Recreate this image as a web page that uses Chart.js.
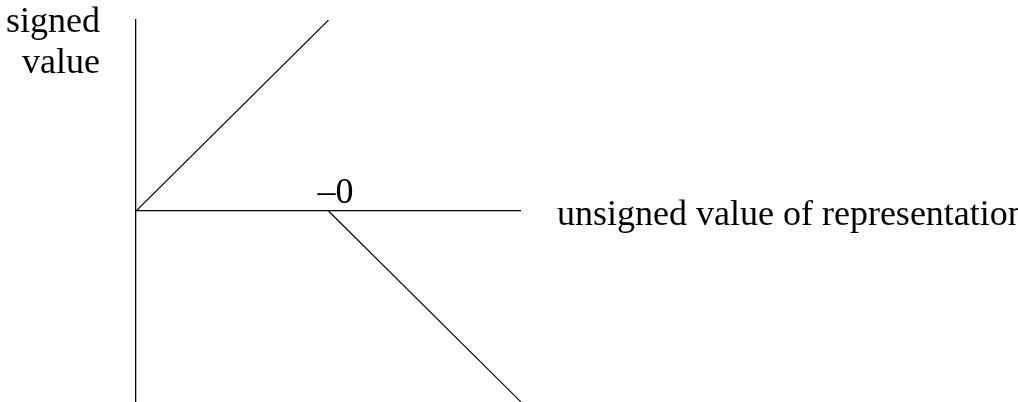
<!DOCTYPE html>
<html>
<head>
<meta charset="utf-8">
<script src="https://cdn.jsdelivr.net/npm/chart.js@4.4.1/dist/chart.umd.min.js"></script>
<style>
  html, body { margin: 0; padding: 0; background: #fff; }
  #wrap { width: 1018px; height: 402px; position: relative; }
</style>
</head>
<body>
<div id="wrap"><canvas id="myChart" width="1018" height="402"></canvas></div>
<script>
// the two branches of the mapping
var positiveX = [0, 1];
var positiveY = [0, 1];
var negativeX = [1, 2];
var negativeY = [0, -1];

var xRange = [0, 2];
var yRange = [-1, 1];

var yLabel = ['signed', 'value'];
var xLabel = 'unsigned value of representation';
var zeroLabel = '\u20130';

function toPoints(xs, ys){
  var pts = [];
  for (let i = 0; i < xs.length; i++) {
    pts.push({x: xs[i], y: ys[i]});
  }
  return pts;
}

var FONT = '36px "Liberation Serif", "Times New Roman", serif';

var labelsPlugin = {
  id: 'labelsPlugin',
  afterDraw: function(chart){
    var ctx = chart.ctx;
    var xs = chart.scales.x;
    var ys = chart.scales.y;
    var zeroY = ys.getPixelForValue(0);
    ctx.save();
    ctx.fillStyle = '#000';
    ctx.font = FONT;
    ctx.textBaseline = 'alphabetic';

    // y axis title, top left
    ctx.textAlign = 'right';
    ctx.fillText(yLabel[0], 100, 32);
    ctx.fillText(yLabel[1], 100, 73);

    // -0 above the axis
    ctx.textAlign = 'center';
    ctx.fillText(zeroLabel, xs.getPixelForValue(1) + 7, zeroY - 8);

    // x axis title
    ctx.textAlign = 'left';
    ctx.fillText(xLabel, xs.getPixelForValue(xRange[1]) + 36, zeroY + 14);
    ctx.restore();
  }
};

var ctx = document.getElementById('myChart').getContext('2d');
var myChart = new Chart(ctx, {
  type: 'scatter',
  data: {
    datasets: [{
      data: toPoints(positiveX, positiveY),
      showLine: true,
      borderColor: '#000',
      borderWidth: 1.1,
      pointRadius: 0
    }, {
      data: toPoints(negativeX, negativeY),
      showLine: true,
      borderColor: '#000',
      borderWidth: 1.1,
      pointRadius: 0
    }]
  },
  options: {
    responsive: false,
    animation: false,
    events: [],
    layout: { padding: { left: 136, top: 20, right: 497, bottom: 0 } },
    plugins: { legend: { display: false }, tooltip: { enabled: false } },
    scales: {
      x: {
        type: 'linear',
        display: false,
        min: xRange[0],
        max: xRange[1]
      },
      y: {
        type: 'linear',
        min: yRange[0],
        max: yRange[1],
        border: { display: true, color: '#000', width: 1.3 },
        grid: {
          drawTicks: false,
          lineWidth: 1.3,
          color: function(c){ return c.tick && c.tick.value === 0 ? '#000' : 'rgba(0,0,0,0)'; }
        },
        ticks: { display: false, stepSize: 1, padding: 0 }
      }
    }
  },
  plugins: [labelsPlugin]
});
</script>
</body>
</html>
